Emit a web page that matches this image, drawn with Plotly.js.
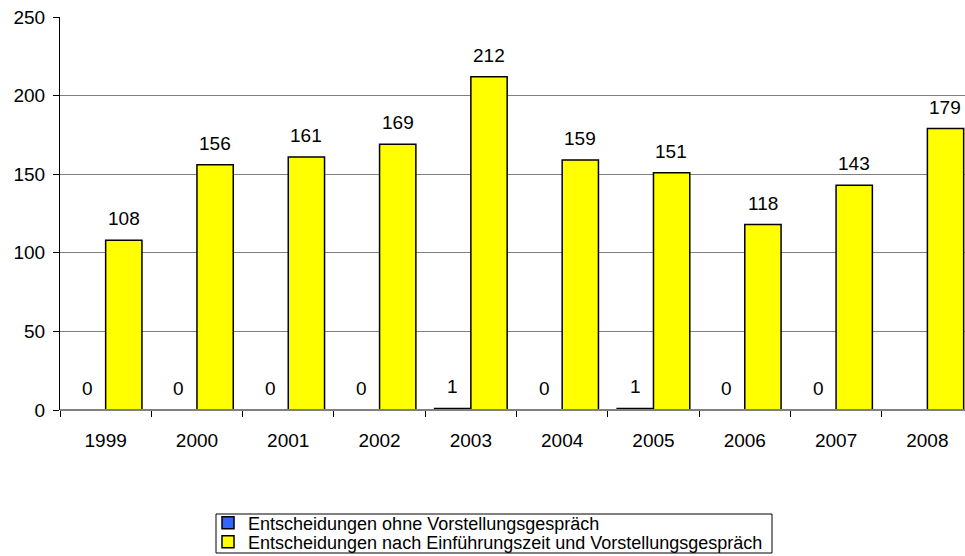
<!DOCTYPE html>
<html>
<head>
<meta charset="utf-8">
<script src="https://cdn.plot.ly/plotly-3.0.1.min.js"></script>
<style>html,body{margin:0;padding:0;background:#fff}#chart{width:965px;height:556px}</style>
</head>
<body>
<div id="chart"></div>
<script>
const years = ["1999","2000","2001","2002","2003","2004","2005","2006","2007","2008"];
const ohneVorstellung = [0,0,0,0,1,0,1,0,0,null];
const nachEinfuehrung = [108,156,161,169,212,159,151,118,143,179];
const seriesNames = ["Entscheidungen ohne Vorstellungsgespräch","Entscheidungen nach Einführungszeit und Vorstellungsgespräch"];
const seriesColors = ["#3366FF","#FFFF00"];

const FAMILY = "Liberation Sans, Arial, sans-serif";
function mkFont(size) { return {family: FAMILY, size: size, color: "#000"}; }

const PL = 60, PT = 17, PW = 905, PH = 393;
const px2x = p => (p - PL) / PW;
const px2y = p => (PT + PH - p) / PH;

const legendIds = ["legend", "legend2"];
const traces = [ohneVorstellung, nachEinfuehrung].map((vals, i) => ({
  type: "bar",
  x: years,
  y: vals,
  name: seriesNames[i],
  legend: legendIds[i],
  marker: {color: seriesColors[i], line: {color: "#000", width: 1.5}},
  hoverinfo: "x+y"
}));

const annotations = [];
[ohneVorstellung, nachEinfuehrung].forEach((vals, i) => {
  vals.forEach((v, j) => {
    if (v === null) return;
    annotations.push({
      x: j, y: v, xref: "x", yref: "y",
      text: String(v), showarrow: false,
      xanchor: "center", yanchor: "bottom",
      xshift: i === 0 ? -18 : 18, yshift: 9,
      font: mkFont(19)
    });
  });
});

function legendRow(centerPx) {
  return {
    x: px2x(208), y: px2y(centerPx), xanchor: "left", yanchor: "middle",
    orientation: "v",
    bgcolor: "rgba(0,0,0,0)", borderwidth: 0,
    font: mkFont(18),
    itemwidth: 30
  };
}

const layout = {
  width: 965, height: 556,
  margin: {l: PL, r: 965 - PL - PW, t: PT, b: 556 - PT - PH, autoexpand: false},
  paper_bgcolor: "#fff", plot_bgcolor: "#fff",
  font: mkFont(19),
  barmode: "group",
  bargap: 0.205, bargroupgap: 0,
  showlegend: true,
  legend: legendRow(523),
  legend2: legendRow(542),
  shapes: [{
    type: "rect", xref: "paper", yref: "paper",
    x0: px2x(216), x1: px2x(772), y0: px2y(514), y1: px2y(553),
    line: {color: "#000", width: 1}, fillcolor: "rgba(0,0,0,0)", layer: "below"
  }],
  xaxis: {
    type: "category",
    range: [-0.5, 9.412],
    showline: false,
    ticks: "outside", tickson: "boundaries", ticklen: 6, tickcolor: "#000",
    ticklabelstandoff: 17,
    showgrid: false, zeroline: false,
    tickfont: mkFont(19),
    automargin: false,
    fixedrange: true
  },
  yaxis: {
    range: [0, 250],
    tickvals: [0,50,100,150,200,250],
    showline: true, linecolor: "#000", linewidth: 1,
    ticks: "outside", ticklen: 6, tickcolor: "#000",
    ticklabelstandoff: 4,
    showgrid: true, gridcolor: "#808080", gridwidth: 1,
    zeroline: true, zerolinecolor: "#808080", zerolinewidth: 2,
    zerolinelayer: "above traces",
    tickfont: mkFont(19),
    automargin: false,
    fixedrange: true
  },
  annotations: annotations
};

Plotly.newPlot("chart", traces, layout, {displayModeBar: false, staticPlot: true});
</script>
</body>
</html>
